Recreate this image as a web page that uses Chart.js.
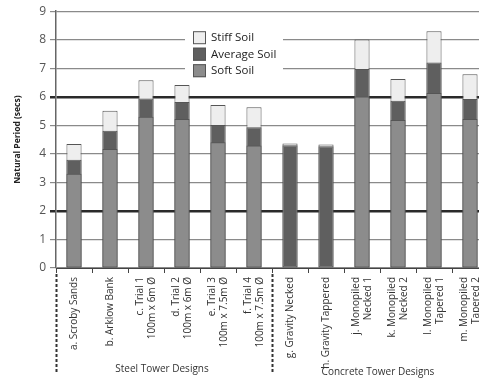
<!DOCTYPE html>
<html>
<head>
<meta charset="utf-8">
<script src="https://cdn.jsdelivr.net/npm/chart.js@4/dist/chart.umd.min.js"></script>
<style>
  html, body { margin: 0; padding: 0; background: #fff; overflow: hidden; }
  #wrap { width: 490px; height: 381px; position: relative; }
</style>
</head>
<body>
<div id="wrap"><canvas id="chart"></canvas></div>
<script>
// Tower designs (each label line is one array entry)
const categories = [
  ["a. Scroby Sands"],
  ["b. Arklow Bank"],
  ["c. Trial 1", "100m x 6m Ø"],
  ["d. Trial 2", "100m x 6m Ø"],
  ["e. Trial 3", "100m x 7.5m Ø"],
  ["f. Trial 4", "100m x 7.5m Ø"],
  ["g. Gravity Necked"],
  ["h. Gravity Tappered"],
  ["j. Monopiled", "Necked 1"],
  ["k. Monopiled", "Necked 2"],
  ["l. Monopiled", "Tapered 1"],
  ["m. Monopiled", "Tapered 2"]
];

// Natural period (secs) for each soil condition
const softSoil    = [3.30, 4.17, 5.30, 5.22, 4.41, 4.29, null, null, 6.01, 5.19, 6.13, 5.22];
const averageSoil = [3.79, 4.81, 5.94, 5.82, 5.01, 4.93, 4.30, 4.27, 6.97, 5.86, 7.20, 5.92];
const stiffSoil   = [4.35, 5.51, 6.58, 6.41, 5.71, 5.63, 4.36, 4.33, 8.01, 6.62, 8.30, 6.79];

const yTicks = [0, 1, 2, 3, 4, 5, 6, 7, 8, 9];
const heavyTicks = [2, 6];

// Design groups: label and index range of categories
const groupLabels = ["Steel Tower Designs", "Concrete Tower Designs"];
const groupStart  = [0, 6];
const groupEnd    = [5, 11];

const FONT = "'Open Sans', 'DejaVu Sans', sans-serif";

const soilColours = {
  soft: '#8c8c8c',
  average: '#5f5f5f',
  stiff: '#eeeeee'
};

// Rotated, multi-line category labels and the group captions underneath
const labelsPlugin = {
  id: 'designLabels',
  afterDraw(chart) {
    const ctx = chart.ctx;
    const xs = chart.scales.x;
    const area = chart.chartArea;
    const lh = 12;
    ctx.save();
    ctx.fillStyle = '#333';
    ctx.font = '10px ' + FONT;
    categories.forEach((lines, i) => {
      const px = xs.getPixelForValue(i);
      ctx.save();
      ctx.translate(px, area.bottom + 9);
      ctx.rotate(-Math.PI / 2);
      ctx.textAlign = 'right';
      ctx.textBaseline = 'middle';
      lines.forEach((t, j) => {
        const off = (j - (lines.length - 1) / 2) * lh;
        ctx.fillText(t, 0, off);
      });
      ctx.restore();
    });

    // dashed separators at the start of each group
    ctx.strokeStyle = '#333';
    ctx.lineWidth = 2;
    ctx.setLineDash([3, 2]);
    groupStart.forEach((s) => {
      const half = (xs.getPixelForValue(1) - xs.getPixelForValue(0)) / 2;
      const x = Math.round(xs.getPixelForValue(s) - half) + 0.5;
      ctx.beginPath();
      ctx.moveTo(x, area.bottom + 6);
      ctx.lineTo(x, area.bottom + 104);
      ctx.stroke();
    });
    ctx.setLineDash([]);

    ctx.font = '10px ' + FONT;
    ctx.textAlign = 'center';
    ctx.textBaseline = 'middle';
    ctx.fillStyle = '#333';
    groupLabels.forEach((t, g) => {
      const x = (xs.getPixelForValue(groupStart[g]) + xs.getPixelForValue(groupEnd[g])) / 2;
      const y = area.bottom + (g === 0 ? 101 : 104);
      ctx.fillText(t, x - 2, y);
    });
    ctx.restore();
  }
};

// Boxed legend sitting over the upper grid lines
const legendPlugin = {
  id: 'soilLegend',
  afterDatasetsDraw(chart) {
    const ctx = chart.ctx;
    const area = chart.chartArea;
    const x0 = area.left + 129;
    const y0 = area.top + 18;
    ctx.save();
    ctx.fillStyle = '#fff';
    ctx.fillRect(x0, y0, 98, 50);
    const items = chart.data.datasets.slice().reverse();
    ctx.font = '11.5px ' + FONT;
    ctx.textAlign = 'left';
    ctx.textBaseline = 'middle';
    items.forEach((ds, i) => {
      const sy = y0 + 2 + i * 16.5;
      ctx.fillStyle = ds.backgroundColor;
      ctx.fillRect(x0 + 8, sy, 13, 13);
      ctx.strokeStyle = '#555';
      ctx.lineWidth = 1;
      ctx.strokeRect(x0 + 8.5, sy + 0.5, 12, 12);
      ctx.fillStyle = '#222';
      ctx.fillText(ds.label, x0 + 26, sy + 7);
    });
    ctx.restore();
  }
};

const barCommon = {
  borderColor: '#555',
  borderWidth: 1,
  borderSkipped: false,
  categoryPercentage: 1,
  barPercentage: 0.42
};

new Chart(document.getElementById('chart'), {
  type: 'bar',
  data: {
    labels: categories,
    datasets: [
      Object.assign({ label: 'Soft Soil', data: softSoil, backgroundColor: soilColours.soft }, barCommon),
      Object.assign({ label: 'Average Soil', data: averageSoil, backgroundColor: soilColours.average }, barCommon),
      Object.assign({ label: 'Stiff Soil', data: stiffSoil, backgroundColor: soilColours.stiff, borderColor: '#666' }, barCommon)
    ]
  },
  options: {
    responsive: true,
    maintainAspectRatio: false,
    animation: false,
    layout: { padding: { top: 4, right: 2, bottom: 0, left: 0 } },
    plugins: {
      legend: { display: false },
      tooltip: { enabled: false }
    },
    scales: {
      x: {
        stacked: true,
        offset: true,
        grid: {
          display: true,
          drawOnChartArea: false,
          drawTicks: true,
          tickLength: 5,
          color: '#444',
          lineWidth: 1
        },
        border: { display: true, color: '#444', width: 1 },
        ticks: { display: false },
        afterFit(scale) { scale.height = 113; }
      },
      y: {
        stacked: false,
        min: 0,
        max: 9,
        afterBuildTicks(scale) { scale.ticks = yTicks.map(v => ({ value: v })); },
        grid: {
          color: ctx => heavyTicks.includes(ctx.tick && ctx.tick.value) ? '#2a2a2a' : '#8a8a8a',
          lineWidth: ctx => heavyTicks.includes(ctx.tick && ctx.tick.value) ? 2.5 : 1.2,
          tickLength: 6
        },
        border: { display: true, color: '#666', width: 1.5 },
        ticks: {
          color: '#555',
          font: { family: FONT, size: 12 },
          padding: 4
        },
        title: {
          display: true,
          text: 'Natural Period (secs)',
          color: '#222',
          font: { family: FONT, size: 8.5, weight: 'bold' },
          padding: { top: 12, bottom: 8 }
        },
        afterFit(scale) { scale.width = 56; }
      }
    }
  },
  plugins: [labelsPlugin, legendPlugin]
});
</script>
</body>
</html>
